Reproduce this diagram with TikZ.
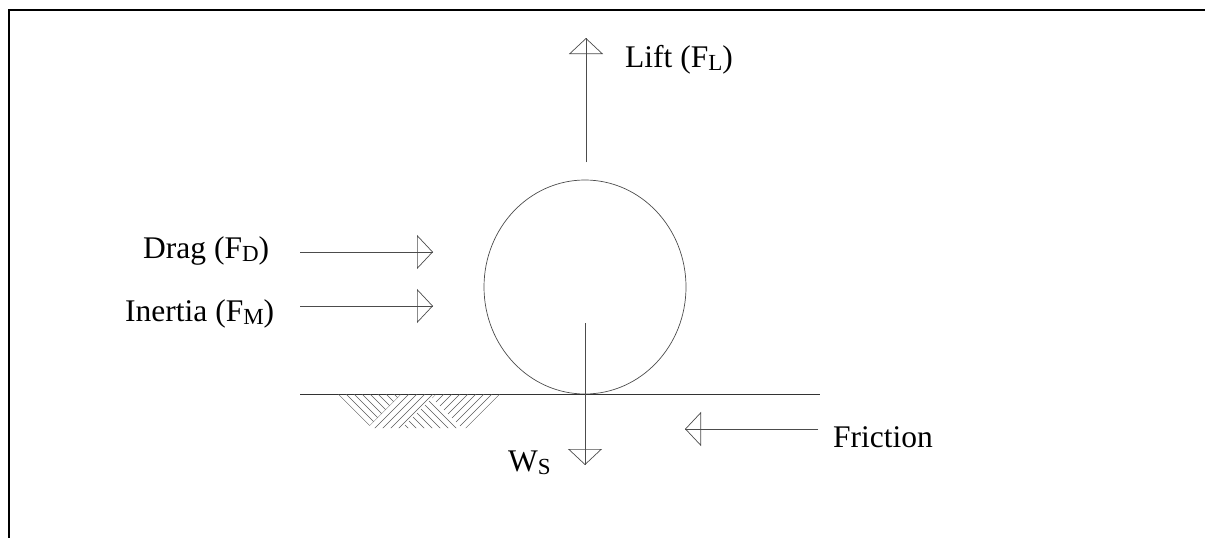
\documentclass[tikz,border=0pt]{standalone}
\usepackage{fontspec}
\setmainfont{Liberation Serif}
\usetikzlibrary{arrows.meta}
\newcommand{\sbs}[1]{\raisebox{-3pt}{\fontsize{23}{23}\selectfont #1}}
\tikzset{
  lbl/.style={inner sep=0pt, font=\fontsize{31.5}{36}\selectfont},
  forceline/.style={draw=black!70, line width=0.7pt},
  forcetip/.style={draw=black!70, line width=0.7pt, -{Triangle[open, length=16pt, width=34pt]}},
  frame/.style={draw=black, line width=1.6pt},
  ground/.style={draw=black!80, line width=0.8pt},
  hatch/.style={draw=black!65, line width=0.5pt},
}
\begin{document}
\begin{tikzpicture}[x=1pt, y=-1pt]
\useasboundingbox (0,0) rectangle (1205,538);
% frame
\draw[frame] (9,538) -- (9,10) -- (1205,10);

% ball
\draw[forceline] (585,287) ellipse [x radius=101pt, y radius=107pt];
\coordinate (ballc) at (585,287);

% coordinates
\coordinate (liftA) at (586,162);
\coordinate (liftB) at (586,38);
\coordinate (wA) at (585,323);
\coordinate (wB) at (585,465);
\coordinate (dragA) at (300,252);
\coordinate (dragB) at (433,252);
\coordinate (inA) at (300,306);
\coordinate (inB) at (433,306);
\coordinate (frA) at (818,429);
\coordinate (frB) at (685,429);
\coordinate (gA) at (300,394);
\coordinate (gB) at (820,394);

% ground
\draw[ground] (gA) -- (gB);

% forces
\foreach \a/\b in {liftA/liftB, wA/wB, dragA/dragB, inA/inB, frA/frB}{
  \draw[forceline] (\a) -- (\b);
  \draw[forcetip] (\a) -- (\b);
}

% labels
\node[lbl, anchor=base west] (lift) at (625,67) {Lift (F\sbs{L})};
\node[lbl, anchor=base west] (drag) at (143,258) {Drag (F\sbs{D})};
\node[lbl, anchor=base west] (inertia) at (125,321) {Inertia (F\sbs{M})};
\node[lbl, anchor=base west] (friction) at (833,447) {Friction};
\node[lbl, anchor=base west] (ws) at (508,471) {W\sbs{S}};

% soil hatching
\begin{scope}
  \clip (338,394) -- (401,394) -- (369.5,425.5) -- cycle;
  \foreach \k in {-56,-48,...,40}{\draw[hatch] (\k+380,380) -- (\k+440,440);}
\end{scope}
\begin{scope}
  \clip (401,394) -- (436,394) -- (402,428) -- (372,428) -- (369.5,425.5) -- cycle;
  \foreach \c in {771,779,...,851}{\draw[hatch] (\c-380,380) -- (\c-440,440);}
\end{scope}
\begin{scope}
  \clip (432,398) -- (402,428) -- (462,428) -- cycle;
  \foreach \k in {-60,-52,...,40}{\draw[hatch] (\k+380,380) -- (\k+440,440);}
\end{scope}
\begin{scope}
  \clip (432,398) -- (436,394) -- (500,394) -- (466,428) -- (462,428) -- cycle;
  \foreach \c in {830,838,...,902}{\draw[hatch] (\c-380,380) -- (\c-440,440);}
\end{scope}
\end{tikzpicture}
\end{document}
